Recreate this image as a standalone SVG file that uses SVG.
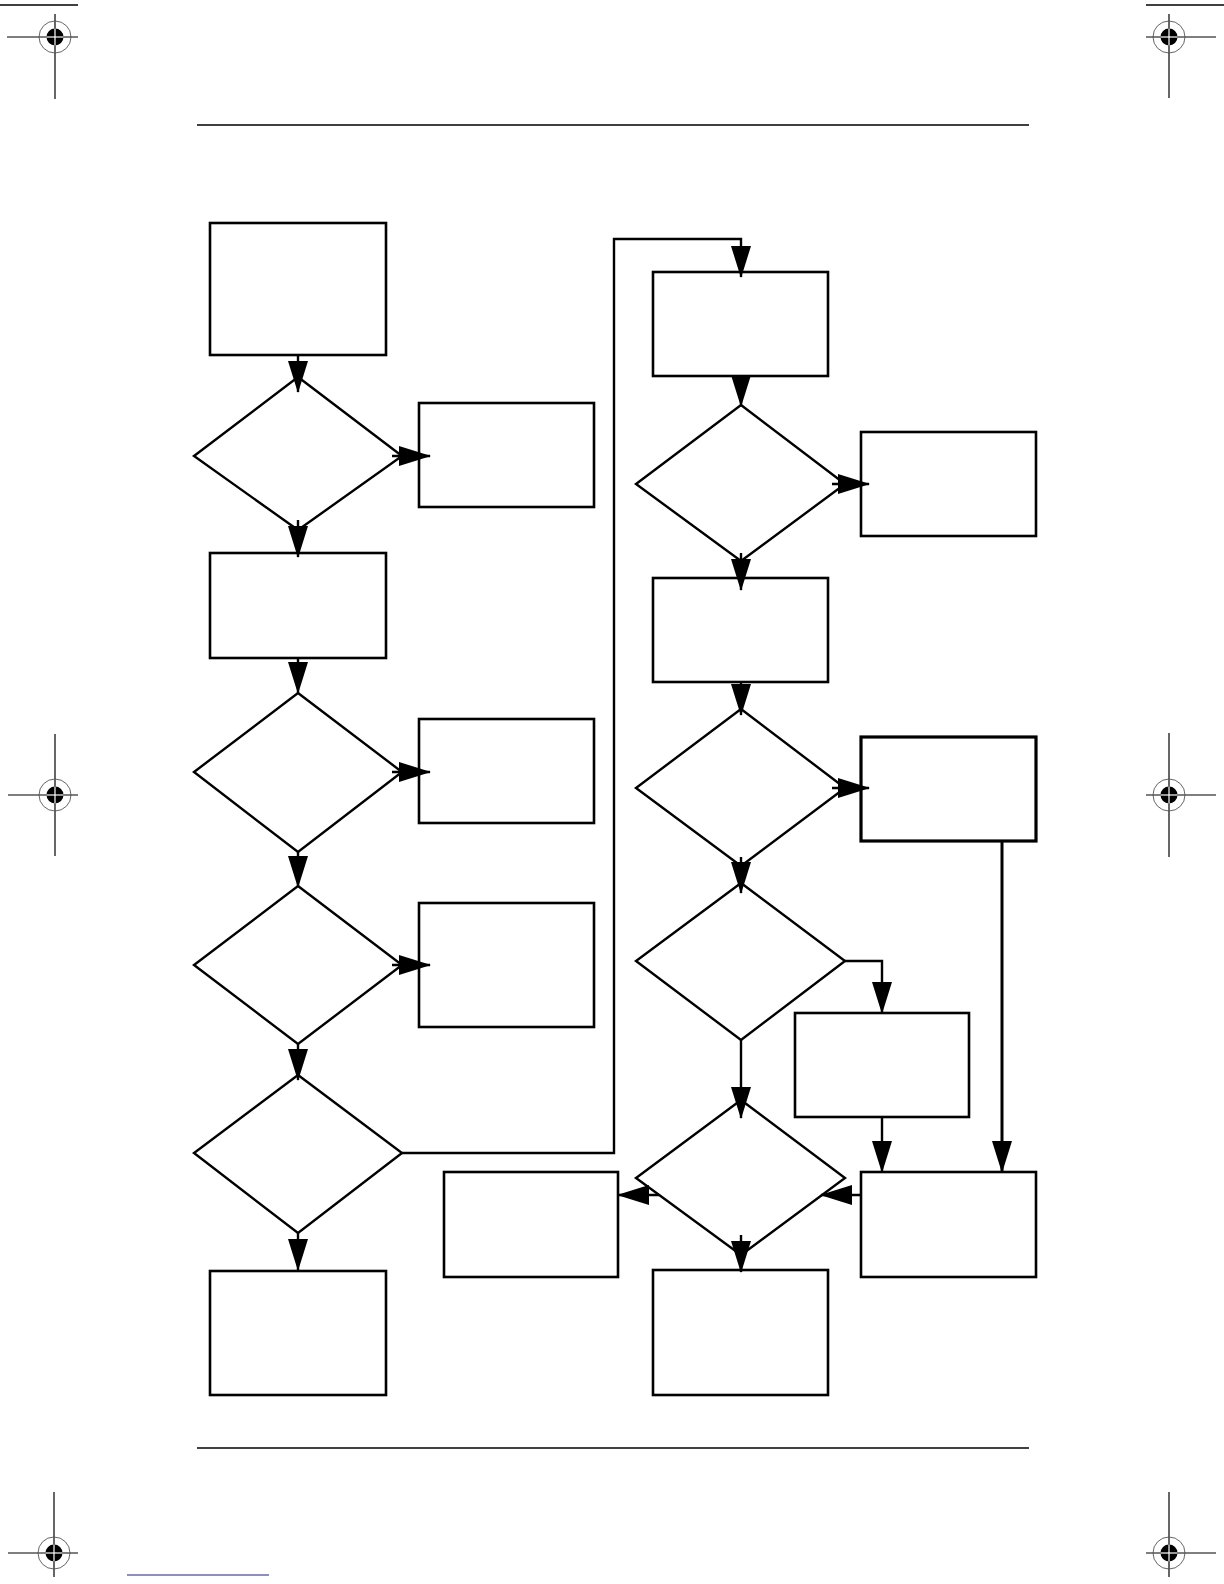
<svg xmlns="http://www.w3.org/2000/svg" width="1224" height="1584" viewBox="0 0 1224 1584">
<defs>
<style>
.box{fill:#fff;stroke:#000;stroke-width:2.6}
.boxb{fill:#fff;stroke:#000;stroke-width:3.2}
.dia{fill:#fff;stroke:#000;stroke-width:2.4}
.con{fill:none;stroke:#000;stroke-width:2.4}
.conb{fill:none;stroke:#000;stroke-width:3}
.rule{stroke:#000;stroke-width:1.3}
.reg{stroke:#000;stroke-width:1.2}
.regc{fill:none;stroke:#555;stroke-width:0.9}
</style>
<marker id="ah" markerUnits="userSpaceOnUse" markerWidth="32" markerHeight="20" refX="31" refY="10" orient="auto">
<path d="M0,0 L32,10 L0,20 Z" fill="#000"/>
</marker>
<g id="regmark">
<circle class="regc" cx="0" cy="0" r="16"/>
<circle cx="0" cy="0" r="8.5" fill="#000"/>
<line x1="-8.5" y1="0" x2="8.5" y2="0" stroke="#fff" stroke-width="1.2"/>
<line x1="0" y1="-8.5" x2="0" y2="8.5" stroke="#fff" stroke-width="1.2"/>
</g>
</defs>
<rect width="1224" height="1584" fill="#fff"/>

<g id="page-marks">
<line class="rule" x1="0" y1="5" x2="78" y2="5"/>
<line class="rule" x1="1146" y1="5" x2="1224" y2="5"/>
<line class="reg" x1="7" y1="37" x2="78" y2="37"/>
<line class="reg" x1="55" y1="14" x2="55" y2="99"/>
<use href="#regmark" x="55" y="37"/>
<line class="reg" x1="1146" y1="37" x2="1216" y2="37"/>
<line class="reg" x1="1169" y1="14" x2="1169" y2="98"/>
<use href="#regmark" x="1169" y="37"/>
<line class="reg" x1="8" y1="795" x2="78" y2="795"/>
<line class="reg" x1="55" y1="734" x2="55" y2="856"/>
<use href="#regmark" x="55" y="795"/>
<line class="reg" x1="1146" y1="795" x2="1216" y2="795"/>
<line class="reg" x1="1169" y1="733" x2="1169" y2="857"/>
<use href="#regmark" x="1169" y="795"/>
<line class="reg" x1="8" y1="1553" x2="78" y2="1553"/>
<line class="reg" x1="54" y1="1492" x2="54" y2="1577"/>
<use href="#regmark" x="54" y="1553"/>
<line class="reg" x1="1146" y1="1553" x2="1216" y2="1553"/>
<line class="reg" x1="1169" y1="1492" x2="1169" y2="1577"/>
<use href="#regmark" x="1169" y="1553"/>
<line x1="127" y1="1575" x2="269" y2="1575" stroke="#1a237e" stroke-width="1.2"/>
<line class="rule" x1="197" y1="125" x2="1029" y2="125"/>
<line class="rule" x1="197" y1="1448" x2="1029" y2="1448"/>
</g>

<g id="nodes">
<g id="boxA"><rect class="box" x="210" y="223" width="176" height="132"/></g>
<g id="dec1"><polygon class="dia" points="298,377 402,456 298,530 194,456"/></g>
<g id="boxB"><rect class="box" x="419" y="403" width="175" height="104"/></g>
<g id="boxC"><rect class="box" x="210" y="553" width="176" height="105"/></g>
<g id="dec2"><polygon class="dia" points="298,693 402,772 298,852 194,772"/></g>
<g id="boxD"><rect class="box" x="419" y="719" width="175" height="104"/></g>
<g id="dec3"><polygon class="dia" points="298,886 402,965 298,1044 194,965"/></g>
<g id="boxE"><rect class="box" x="419" y="903" width="175" height="124"/></g>
<g id="dec4"><polygon class="dia" points="298,1075 402,1153 298,1233 194,1153"/></g>
<g id="boxF"><rect class="box" x="210" y="1271" width="176" height="124"/></g>
<g id="boxG"><rect class="box" x="653" y="272" width="175" height="104"/></g>
<g id="dec5"><polygon class="dia" points="741,405 845,484 741,561 636,484"/></g>
<g id="boxH"><rect class="box" x="861" y="432" width="175" height="104"/></g>
<g id="boxI"><rect class="box" x="653" y="578" width="175" height="104"/></g>
<g id="dec6"><polygon class="dia" points="741,709 845,788 741,866 636,788"/></g>
<g id="boxJ"><rect class="boxb" x="861" y="737" width="175" height="104"/></g>
<g id="dec7"><polygon class="dia" points="741,883 845,961 741,1040 636,961"/></g>
<g id="boxK"><rect class="box" x="795" y="1013" width="174" height="104"/></g>
<g id="dec8"><polygon class="dia" points="741,1100 845,1178 741,1255 636,1178"/></g>
<g id="boxL"><rect class="box" x="861" y="1172" width="175" height="105"/></g>
<g id="boxM"><rect class="box" x="444" y="1172" width="174" height="105"/></g>
<g id="boxN"><rect class="box" x="653" y="1270" width="175" height="125"/></g>
</g>

<g id="connectors">
<path class="con" d="M298,355 V392" marker-end="url(#ah)"/>
<path class="con" d="M392,456 H430" marker-end="url(#ah)"/>
<path class="con" d="M298,520 V557" marker-end="url(#ah)"/>
<path class="con" d="M298,658 V693" marker-end="url(#ah)"/>
<path class="con" d="M392,772 H430" marker-end="url(#ah)"/>
<path class="con" d="M298,852 V887" marker-end="url(#ah)"/>
<path class="con" d="M392,965 H430" marker-end="url(#ah)"/>
<path class="con" d="M298,1044 V1080" marker-end="url(#ah)"/>
<path class="con" d="M298,1233 V1270" marker-end="url(#ah)"/>
<path class="con" d="M402,1153 H614 V239 H741 V277" marker-end="url(#ah)"/>
<path class="con" d="M741,376 V406" marker-end="url(#ah)"/>
<path class="con" d="M832,484 H869" marker-end="url(#ah)"/>
<path class="con" d="M741,553 V590" marker-end="url(#ah)"/>
<path class="con" d="M741,682 V715" marker-end="url(#ah)"/>
<path class="con" d="M832,788 H869" marker-end="url(#ah)"/>
<path class="con" d="M741,857 V893" marker-end="url(#ah)"/>
<path class="con" d="M741,1040 V1118" marker-end="url(#ah)"/>
<path class="con" d="M845,961 H882 V1013" marker-end="url(#ah)"/>
<path class="con" d="M882,1117 V1172" marker-end="url(#ah)"/>
<path class="conb" d="M1002,841 V1172" marker-end="url(#ah)"/>
<path class="con" d="M861,1195 H821" marker-end="url(#ah)"/>
<path class="con" d="M659,1195 H618" marker-end="url(#ah)"/>
<path class="con" d="M741,1235 V1272" marker-end="url(#ah)"/>
</g>
</svg>
